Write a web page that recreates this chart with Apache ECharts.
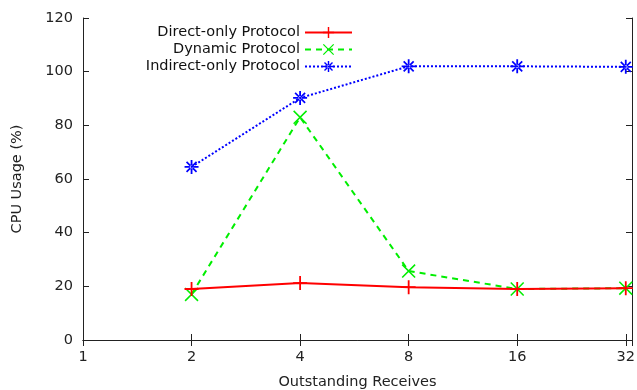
<!DOCTYPE html>
<html>
<head>
<meta charset="utf-8">
<script src="https://cdn.jsdelivr.net/npm/echarts@6/dist/echarts.min.js"></script>
<style>
  html, body { margin: 0; padding: 0; background: #fff; }
  #main { width: 637px; height: 390px; }
</style>
</head>
<body>
<div id="main"></div>
<script>
// outstanding receives (x, log2 scale)
const receives = [2, 4, 8, 16, 32];
const directOnly = [19, 21.2, 19.7, 19, 19.3];
const dynamicProto = [17, 83, 25.7, 19, 19.3];
const indirectOnly = [64.5, 90.2, 102, 102, 101.8];
const seriesNames = ['Direct-only Protocol', 'Dynamic Protocol', 'Indirect-only Protocol'];

// gnuplot-like point shapes
const plusPath = 'path://M-0.9,-7 L0.9,-7 L0.9,-0.9 L7,-0.9 L7,0.9 L0.9,0.9 L0.9,7 L-0.9,7 L-0.9,0.9 L-7,0.9 L-7,-0.9 L-0.9,-0.9 Z';
const crossPath = 'path://M-7.6,-6.4 L6.4,7.6 L7.6,6.4 L-6.4,-7.6 Z M-6.4,7.6 L7.6,-6.4 L6.4,-7.6 L-7.6,6.4 Z';
const starPath = 'path://M-0.9,-7 L0.9,-7 L0.9,-0.9 L7,-0.9 L7,0.9 L0.9,0.9 L0.9,7 L-0.9,7 L-0.9,0.9 L-7,0.9 L-7,-0.9 L-0.9,-0.9 Z M-5.6,-4.4 L4.4,5.6 L5.6,4.4 L-4.4,-5.6 Z M-4.4,5.6 L5.6,-4.4 L4.4,-5.6 L-5.6,4.4 Z';

const font = 'DejaVu Sans';
const fs = 14.5;
const pairs = ys => receives.map((x, i) => [x, ys[i]]);

function legendFor(name, top) {
  return {
    data: [name],
    right: 284,
    top: top,
    orient: 'vertical',
    align: 'right',
    itemWidth: 47,
    itemHeight: 14,
    itemGap: 0,
    padding: 0,
    textStyle: { fontFamily: font, fontSize: fs, color: '#111' }
  };
}

const chart = echarts.init(document.getElementById('main'), null, { renderer: 'canvas' });
const axisLine = { show: true, lineStyle: { color: '#222', width: 1 } };
const tickLabelStyle = { fontFamily: font, fontSize: fs, color: '#222' };
const logFmt = v => {
  const e = Math.log2(v);
  return Math.abs(e - Math.round(e)) < 0.01 ? String(Math.round(v)) : '';
};

chart.setOption({
  animation: false,
  backgroundColor: '#fff',
  grid: { left: 83, right: 5, top: 18, bottom: 50, containLabel: false, outerBoundsMode: 'none' },
  legend: [
    legendFor(seriesNames[0], 25),
    legendFor(seriesNames[1], 42),
    legendFor(seriesNames[2], 59)
  ],
  xAxis: [{
    type: 'log',
    logBase: 2,
    min: 1,
    max: 33.3,
    name: 'Outstanding Receives',
    nameLocation: 'middle',
    nameGap: 35,
    nameTextStyle: { fontFamily: font, fontSize: fs, color: '#222' },
    axisLine: axisLine,
    axisTick: { inside: true, length: 6, lineStyle: { color: '#222' } },
    axisLabel: { formatter: logFmt, margin: 10, ...tickLabelStyle },
    splitLine: { show: false },
    minorTick: { show: false }
  }, {
    type: 'log',
    logBase: 2,
    min: 1,
    max: 33.3,
    position: 'top',
    axisLine: axisLine,
    axisTick: { inside: true, length: 6, lineStyle: { color: '#222' } },
    axisLabel: { show: false },
    splitLine: { show: false }
  }],
  yAxis: [{
    type: 'value',
    min: 0,
    max: 120,
    interval: 20,
    name: 'CPU Usage (%)',
    nameLocation: 'middle',
    nameGap: 58,
    nameTextStyle: { fontFamily: font, fontSize: fs, color: '#222' },
    axisLine: axisLine,
    axisTick: { show: true, inside: true, length: 6, lineStyle: { color: '#222' } },
    axisLabel: { margin: 10, ...tickLabelStyle },
    splitLine: { show: false }
  }, {
    type: 'value',
    min: 0,
    max: 120,
    interval: 20,
    position: 'right',
    axisLine: axisLine,
    axisTick: { show: true, inside: true, length: 6, lineStyle: { color: '#222' } },
    axisLabel: { show: false },
    splitLine: { show: false }
  }],
  series: [{
    name: seriesNames[0],
    type: 'line',
    data: pairs(directOnly),
    color: '#ff0000',
    symbol: plusPath,
    symbolSize: 14,
    lineStyle: { width: 2, type: 'solid' },
    z: 3
  }, {
    name: seriesNames[1],
    type: 'line',
    data: pairs(dynamicProto),
    color: '#00ee00',
    symbol: crossPath,
    symbolSize: 14,
    lineStyle: { width: 2, type: [6, 5] },
    z: 2
  }, {
    name: seriesNames[2],
    type: 'line',
    data: pairs(indirectOnly),
    color: '#0000ff',
    symbol: starPath,
    symbolSize: 14,
    lineStyle: { width: 2, type: [2, 2] },
    z: 1
  }]
});
</script>
</body>
</html>
